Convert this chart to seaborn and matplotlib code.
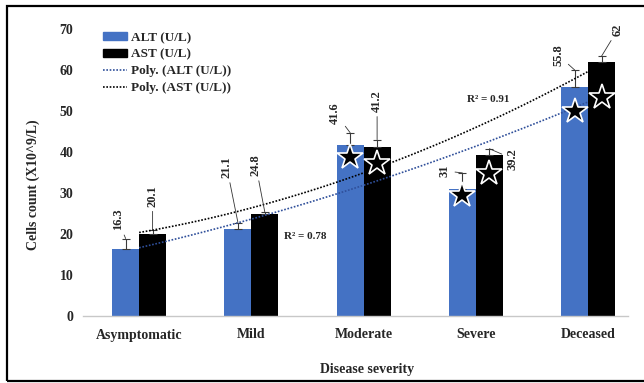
import numpy as np
import pandas as pd
import matplotlib.pyplot as plt
import seaborn as sns
from matplotlib.patches import Rectangle
from matplotlib.lines import Line2D

severity = ['Asymptomatic', 'Mild', 'Moderate', 'Severe', 'Deceased']
series = ['ALT (U/L)', 'AST (U/L)']
alt = [16.3, 21.1, 41.6, 31.0, 55.8]
ast = [20.1, 24.8, 41.2, 39.2, 62.0]
alt_err = [2.6, 1.7, 3.1, 3.9, 4.2]
ast_err = [0.8, 0.5, 1.8, 1.6, 1.4]
alt_star = [np.nan, np.nan, 38.8, 29.6, 50.0]
ast_star = [np.nan, np.nan, 37.3, 35.0, 53.3]
r2_labels = ['R\u00b2 = 0.78', 'R\u00b2 = 0.91']

BLUE = '#4472C4'
colors = [BLUE, 'black']

sns.set_style('white')
plt.rcParams['font.family'] = ['Liberation Serif', 'DejaVu Serif']
plt.rcParams['font.weight'] = 'bold'

df = pd.DataFrame({
    'Severity': severity * 2,
    'Series': [series[0]] * 5 + [series[1]] * 5,
    'Value': alt + ast,
})

fig = plt.figure(figsize=(6.44, 3.83), dpi=100)
ax = fig.add_axes([83 / 644, 1 - 316 / 383, 545 / 644, 287 / 383])

sns.barplot(data=df, x='Severity', y='Value', hue='Series', palette=colors,
            saturation=1, width=0.48, gap=0, errorbar=None, linewidth=0,
            legend=False, ax=ax, zorder=2)

# bar centres from the containers
centres = []
for cont in ax.containers:
    centres.append([p.get_x() + p.get_width() / 2 for p in cont])

# error bars (upper only)
for cx, vals, errs in zip(centres, [alt, ast], [alt_err, ast_err]):
    ax.errorbar(cx, vals, yerr=[np.zeros(5), errs], fmt='none',
                ecolor='#3a3a3a', elinewidth=0.8, capsize=3, capthick=0.8,
                zorder=3)

# polynomial trendlines (order 2), Excel-style x = 1..5
xs = np.arange(1, 6)
grid = np.linspace(1, 5, 100)
for vals, col in zip([alt, ast], ['#2f4f9a', 'black']):
    coef = np.polyfit(xs, vals, 2)
    ax.plot(grid - 1, np.polyval(coef, grid), color=col, lw=1.2,
            linestyle=(0, (1, 1)), zorder=4)

ax.text(1.48, 19.5, r2_labels[0], fontsize=8, ha='center', va='center')
ax.text(3.11, 52.9, r2_labels[1], fontsize=8, ha='center', va='center')

# significance stars
for cx, st in zip(centres, [alt_star, ast_star]):
    ax.plot(cx, st, linestyle='none', marker='*', markersize=19,
            markerfacecolor='black', markeredgecolor='white',
            markeredgewidth=1.2, zorder=5)

# value labels with leader lines (offsets in points)
offsets = [
    [(-5.8, 5.8), (-8, 32), (-10.8, 6.5), (-13, -3), (-12, 3)],
    [(0, 17), (-6.5, 26), (0, 20), (16.6, -15), (11.5, 14.4)],
]
for cx, vals, errs, offs in zip(centres, [alt, ast], [alt_err, ast_err], offsets):
    for x, v, e, off in zip(cx, vals, errs, offs):
        lab = f'{v:g}'
        ax.annotate(lab, xy=(x, v + e), xytext=off, textcoords='offset points',
                    rotation=90, ha='center', va='bottom', fontsize=9,
                    arrowprops=dict(arrowstyle='-', lw=0.6, color='#333333',
                                    shrinkA=1, shrinkB=0),
                    zorder=6)

ax.set_xlim(-0.5, 4.355)
ax.set_ylim(0, 70)
ax.set_yticks(range(0, 71, 10))
ax.tick_params(axis='both', length=0, labelsize=10)
ax.tick_params(axis='x', pad=9)
ax.tick_params(axis='y', pad=7)
for lab in ax.get_xticklabels() + ax.get_yticklabels():
    lab.set_fontweight('bold')

for side in ['left', 'right', 'top']:
    ax.spines[side].set_visible(False)
ax.spines['bottom'].set_color('#c8c8c8')
ax.spines['bottom'].set_linewidth(1.0)

ax.set_xlabel('Disease severity', fontsize=10, fontweight='bold')
ax.set_ylabel('Cells count (X10^9/L)', fontsize=10, fontweight='bold')
ax.xaxis.set_label_coords(0.521, -0.164)
ax.yaxis.set_label_coords(-0.079, 0.456)

handles = [
    Rectangle((0, 0), 1, 1, color=BLUE),
    Rectangle((0, 0), 1, 1, color='black'),
    Line2D([], [], color='#2f4f9a', lw=1.2, linestyle=(0, (1, 1))),
    Line2D([], [], color='black', lw=1.2, linestyle=(0, (1, 1))),
]
labels = series + ['Poly. (ALT (U/L))', 'Poly. (AST (U/L))']
ax.legend(handles, labels, loc='upper left', bbox_to_anchor=(0.037, 0.99),
          frameon=False, handlelength=1.8, handleheight=0.5,
          handletextpad=0.3, labelspacing=0.35, borderpad=0, borderaxespad=0,
          prop={'weight': 'bold', 'size': 9.5})

fig.add_artist(Rectangle((7 / 644, 2 / 383), 1.0, 1 - 8 / 383,
                         transform=fig.transFigure, fill=False,
                         edgecolor='black', linewidth=1.6))

fig.savefig('out.png', dpi=100)
